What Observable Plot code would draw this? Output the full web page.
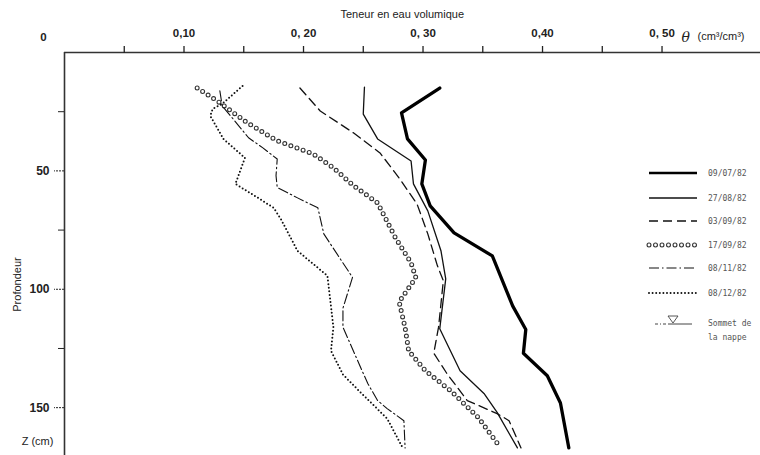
<!DOCTYPE html>
<html><head><meta charset="utf-8">
<script src="https://cdn.jsdelivr.net/npm/d3@7"></script>
<script src="https://cdn.jsdelivr.net/npm/@observablehq/plot@0.6"></script>
<style>
body{margin:0;background:#fff;}
#wrap{position:relative;width:760px;height:455px;overflow:hidden;}
#wrap svg{display:block;}
#legend{position:absolute;left:0;top:0;pointer-events:none;}
</style></head><body><div id="wrap"></div>
<script>
// ---- data (θ in cm3/cm3, depth in cm) ----
const dates = ["09/07/82", "27/08/82", "03/09/82", "17/09/82", "08/11/82", "08/12/82"];

const theta0907 = [0.314,0.282,0.287,0.302,0.299,0.306,0.326,0.358,0.375,0.386,0.384,0.404,0.415,0.422];
const depth0907 = [15,25.5,36.5,45.4,55.5,64.8,76.2,85.9,107,117,127,136.5,148,167];

const theta2708 = [0.251,0.250,0.262,0.290,0.292,0.304,0.315,0.319,0.314,0.331,0.351,0.362,0.379];
const depth2708 = [14.6,26,36.5,45.8,55.5,66.9,83.7,95.6,116.7,134.4,144,152,167];

const theta0309 = [0.197,0.214,0.242,0.264,0.280,0.295,0.304,0.312,0.317,0.313,0.309,0.320,0.337,0.362,0.372,0.382];
const depth0309 = [15,24.7,34,42.4,53,64,76.6,90,96.4,116,127,135.6,147,152.5,155.5,167];

const theta1709 = [0.111,0.128,0.153,0.178,0.208,0.225,0.242,0.262,0.277,0.290,0.294,0.280,0.285,0.288,0.302,0.323,0.346,0.365];
const depth1709 = [15,20.5,29.7,37.3,42.8,48.7,56.3,63.5,78.3,88.8,95.1,105.3,116.2,126,134.4,142.8,154,167];

const theta0811 = [0.130,0.132,0.141,0.154,0.166,0.178,0.177,0.178,0.195,0.212,0.217,0.241,0.233,0.233,0.249,0.254,0.262,0.270,0.284,0.285];
const depth0811 = [16.2,22.6,28,36,40.3,45,52,57,61.4,65.6,76.6,95,108,116,134.4,140,147,150.4,155.5,167];

const theta0812 = [0.149,0.132,0.124,0.122,0.133,0.151,0.143,0.162,0.175,0.181,0.195,0.220,0.225,0.223,0.233,0.248,0.270,0.283];
const depth0812 = [14.1,21.7,23.8,26.8,36.5,44.5,55.5,61.4,65.6,70.3,83.8,94.3,116,126,136,143.7,154.6,167];

const xTicks = [0.05,0.10,0.15,0.20,0.25,0.30,0.35,0.40,0.45,0.50];
const xTickLabels = ["", "0,10", "", "0, 20", "", "0, 30", "", "0,40", "", "0, 50"];
const yTicks = [50, 100, 150];
const yMinorTicks = [25, 75, 125];
const legendExtra = ["Sommet de", "la nappe"];

// ---- build table ----
const thetas = [theta0907, theta2708, theta0309, theta1709, theta0811, theta0812];
const depths = [depth0907, depth2708, depth0309, depth1709, depth0811, depth0812];
const rows = [];
dates.forEach((d, k) => thetas[k].forEach((t, i) => rows.push({date: d, theta: t, depth: depths[k][i]})));
const of = d => rows.filter(r => r.date === d);

const styles = [
  [{stroke: "#000", strokeWidth: 3.3}],
  [{stroke: "#111", strokeWidth: 1.3}],
  [{stroke: "#111", strokeWidth: 1.3, strokeDasharray: "9,5"}],
  [{stroke: "#333", strokeWidth: 5.0, strokeDasharray: "0,6.5", strokeLinecap: "round"},
   {stroke: "#fff", strokeWidth: 2.8, strokeDasharray: "0,6.5", strokeLinecap: "round"}],
  [{stroke: "#111", strokeWidth: 1.1, strokeDasharray: "10,3,1.5,3"}],
  [{stroke: "#111", strokeWidth: 2.0, strokeDasharray: "0,3.6", strokeLinecap: "round"}]
];

const lineMarks = [];
dates.forEach((d, k) => styles[k].forEach(st =>
  lineMarks.push(Plot.line(of(d), {x: "theta", y: "depth", curve: "linear", strokeLinejoin: "round", ...st}))));

const font = "Liberation Sans, Arial, sans-serif";

const chart = Plot.plot({
  width: 760, height: 455,
  marginLeft: 64, marginTop: 52, marginRight: 0, marginBottom: 0,
  style: {fontFamily: font, background: "#fff", color: "#222", overflow: "visible"},
  x: {domain: [0, 0.5824]},
  y: {domain: [0, 170.2], reverse: true},
  marks: [
    Plot.ruleY([0], {stroke: "#333", strokeWidth: 1.4}),
    Plot.ruleX([0], {stroke: "#333", strokeWidth: 1.6}),
    Plot.axisX({anchor: "top", ticks: xTicks, tickSize: 7, tickPadding: 9, strokeWidth: 1.3,
      tickFormat: (v) => xTickLabels[xTicks.findIndex(t => Math.abs(t - v) < 1e-9)] ?? "",
      fontSize: 11.5, fontWeight: "bold", fill: "#222", label: null}),
    Plot.axisY({anchor: "left", ticks: yTicks, tickSize: 10, tickPadding: 5, strokeWidth: 1,
      strokeDasharray: "2,1", fontSize: 12, fontWeight: "bold", fill: "#222", label: null}),
    Plot.axisY({anchor: "left", ticks: yMinorTicks, tickSize: 6, tickFormat: () => "", label: null}),
    ...lineMarks,
    Plot.text(["Teneur en eau volumique"], {frameAnchor: "top-left", textAnchor: "start", dx: 276, dy: -42, fontSize: 11, fill: "#222"}),
    Plot.text(["0"], {frameAnchor: "top-left", textAnchor: "middle", dx: -21, dy: -20, fontSize: 11.5, fontWeight: "bold", fill: "#222"}),
    Plot.text(["θ"], {frameAnchor: "top-left", textAnchor: "start", dx: 617, dy: -20, fontSize: 14, fontStyle: "italic", fontFamily: "DejaVu Serif, serif", fill: "#222"}),
    Plot.text(["(cm³/cm³)"], {frameAnchor: "top-left", textAnchor: "start", dx: 633, dy: -20, fontSize: 11, fill: "#222"}),
    Plot.text(["Profondeur"], {frameAnchor: "top-left", textAnchor: "middle", dx: -51, dy: 232, rotate: -90, fontSize: 11, fill: "#222"}),
    Plot.text(["Z (cm)"], {frameAnchor: "top-left", textAnchor: "middle", dx: -27, dy: 385, fontSize: 11, fill: "#222"})
  ]
});
const wrap = document.getElementById("wrap");
wrap.appendChild(chart);

// ---- legend overlay (drawn inside the plot area as in the original) ----
const lg = d3.select(wrap).append("svg").attr("id", "legend").attr("width", 760).attr("height", 455);
const ly = [173, 198, 221, 245, 268, 293];
dates.forEach((d, k) => {
  styles[k].forEach(st => {
    const l = lg.append("line").attr("x1", 649).attr("x2", 697).attr("y1", ly[k]).attr("y2", ly[k])
      .attr("stroke", st.stroke).attr("stroke-width", k === 0 ? 2.6 : st.strokeWidth);
    if (st.strokeDasharray) l.attr("stroke-dasharray", st.strokeDasharray);
    if (st.strokeLinecap) l.attr("stroke-linecap", st.strokeLinecap);
  });
  lg.append("text").attr("x", 708).attr("y", ly[k] + 3).attr("font-size", 8).attr("font-family", "DejaVu Sans Mono, monospace")
    .attr("fill", "#555").text(d);
});
// water table symbol
lg.append("line").attr("x1", 655).attr("x2", 668).attr("y1", 324).attr("y2", 324).attr("stroke", "#444").attr("stroke-width", 1).attr("stroke-dasharray", "3,2,1,2");
lg.append("line").attr("x1", 668).attr("x2", 692).attr("y1", 324).attr("y2", 324).attr("stroke", "#444").attr("stroke-width", 1);
lg.append("path").attr("d", "M668,316 L678,316 L673,323 Z").attr("fill", "none").attr("stroke", "#444").attr("stroke-width", 0.9);
legendExtra.forEach((t, i) => lg.append("text").attr("x", 708).attr("y", 326 + i * 14).attr("font-size", 8)
  .attr("font-family", "DejaVu Sans Mono, monospace").attr("fill", "#555").text(t));
</script></body></html>
